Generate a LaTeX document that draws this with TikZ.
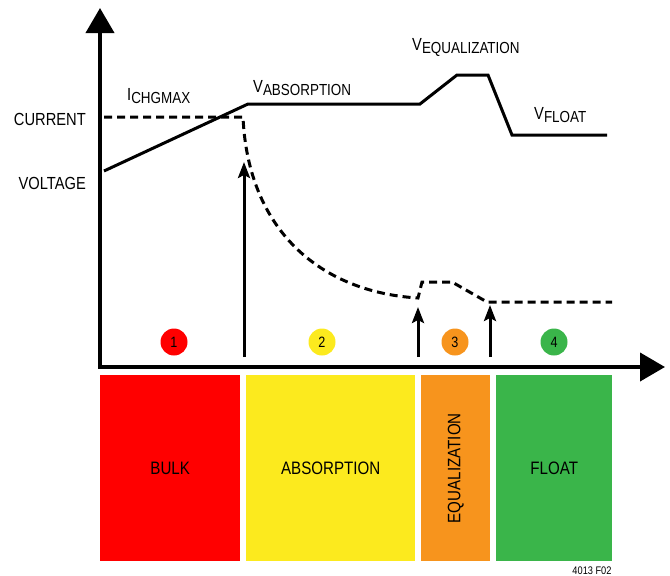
\documentclass[tikz,border=0pt]{standalone}
\usepackage{fontspec}
\setmainfont{Liberation Sans}[FakeStretch=0.84]
\usepackage{tikz}
\usetikzlibrary{arrows.meta}
\usetikzlibrary{positioning}
\definecolor{bulkred}{RGB}{255,0,0}
\definecolor{absyellow}{RGB}{252,234,30}
\definecolor{eqorange}{RGB}{247,148,29}
\definecolor{floatgreen}{RGB}{58,181,74}
\newcommand{\lowsub}[1]{\raisebox{-3pt}{\fontsize{16}{16}\selectfont #1}}

\begin{document}
\begin{tikzpicture}[x=1pt,y=-1pt,
    font=\fontsize{17.5}{18}\selectfont,
    axis/.style={line width=4pt,line join=miter,
      {Triangle[width=28pt,length=25pt]}-{Triangle[width=28pt,length=25pt]}},
    volt/.style={line width=3pt},
    amp/.style={line width=3pt,dash pattern=on 8pt off 5pt},
    phasearrow/.style={line width=3pt,-{Stealth[width=12pt,length=16pt,inset=3pt]}},
    phase/.style={circle,minimum size=27pt,inner sep=0pt,font=\fontsize{15}{15}\selectfont},
    stage/.style={anchor=north west,minimum height=186pt,inner sep=0pt,font=\fontsize{18}{18}\selectfont},
    tag/.style={inner sep=0pt}]
  \useasboundingbox (0,0) rectangle (670,576);

  % axes
  \draw[axis] (100,8) -- (100,367) -- (665,367);

  % voltage and current
  \draw[volt] (104,171) -- (248,104) -- (420,104) -- (457,75) -- (488,75)
    -- (512,135) -- (607,135);
  \draw[amp] (104,117) -- (243,117) .. controls (248,230) and (320,292) .. (418,298)
    -- (422,282) -- (452,282) -- (487,302) -- (612,302);

  \node[tag,anchor=base east] (current) at (86,125) {CURRENT};
  \node[tag,anchor=base east] (voltage) at (86,189) {VOLTAGE};
  \node[tag,anchor=base west] (ichgmax) at (127,100) {I\lowsub{CHGMAX}};
  \node[tag,anchor=base west] (vabs) at (253,92) {V\lowsub{ABSORPTION}};
  \node[tag,anchor=base west] (veq) at (412,50) {V\lowsub{EQUALIZATION}};
  \node[tag,anchor=base west] (vfloat) at (534,119) {V\lowsub{FLOAT}};

  % phase changes
  \coordinate (t1) at (244,357);
  \coordinate (t2) at (418,357);
  \coordinate (t3) at (490,357);
  \draw[phasearrow] (t1) -- (244,162);
  \draw[phasearrow] (t2) -- (418,307);
  \draw[phasearrow] (t3) -- (490,305);

  \node[phase,fill=bulkred] (p1) at (174,342) {1};
  \node[phase,fill=absyellow] (p2) at (322,342) {2};
  \node[phase,fill=eqorange] (p3) at (455,342) {3};
  \node[phase,fill=floatgreen] (p4) at (554,342) {4};

  % stages
  \node[stage,fill=bulkred,minimum width=140pt] (bulk) at (100,375) {BULK};
  \node[stage,fill=absyellow,minimum width=169pt] (absorption) at (246,375) {ABSORPTION};
  \node[stage,fill=eqorange,minimum width=69pt] (equalization) at (421,375) {\rotatebox{90}{EQUALIZATION}};
  \node[stage,fill=floatgreen,minimum width=116pt] (float) at (496,375) {FLOAT};

  \node[tag,font=\fontsize{11}{11}\selectfont] (fignum) at (592,571) {4013 F02};
\end{tikzpicture}
\end{document}
